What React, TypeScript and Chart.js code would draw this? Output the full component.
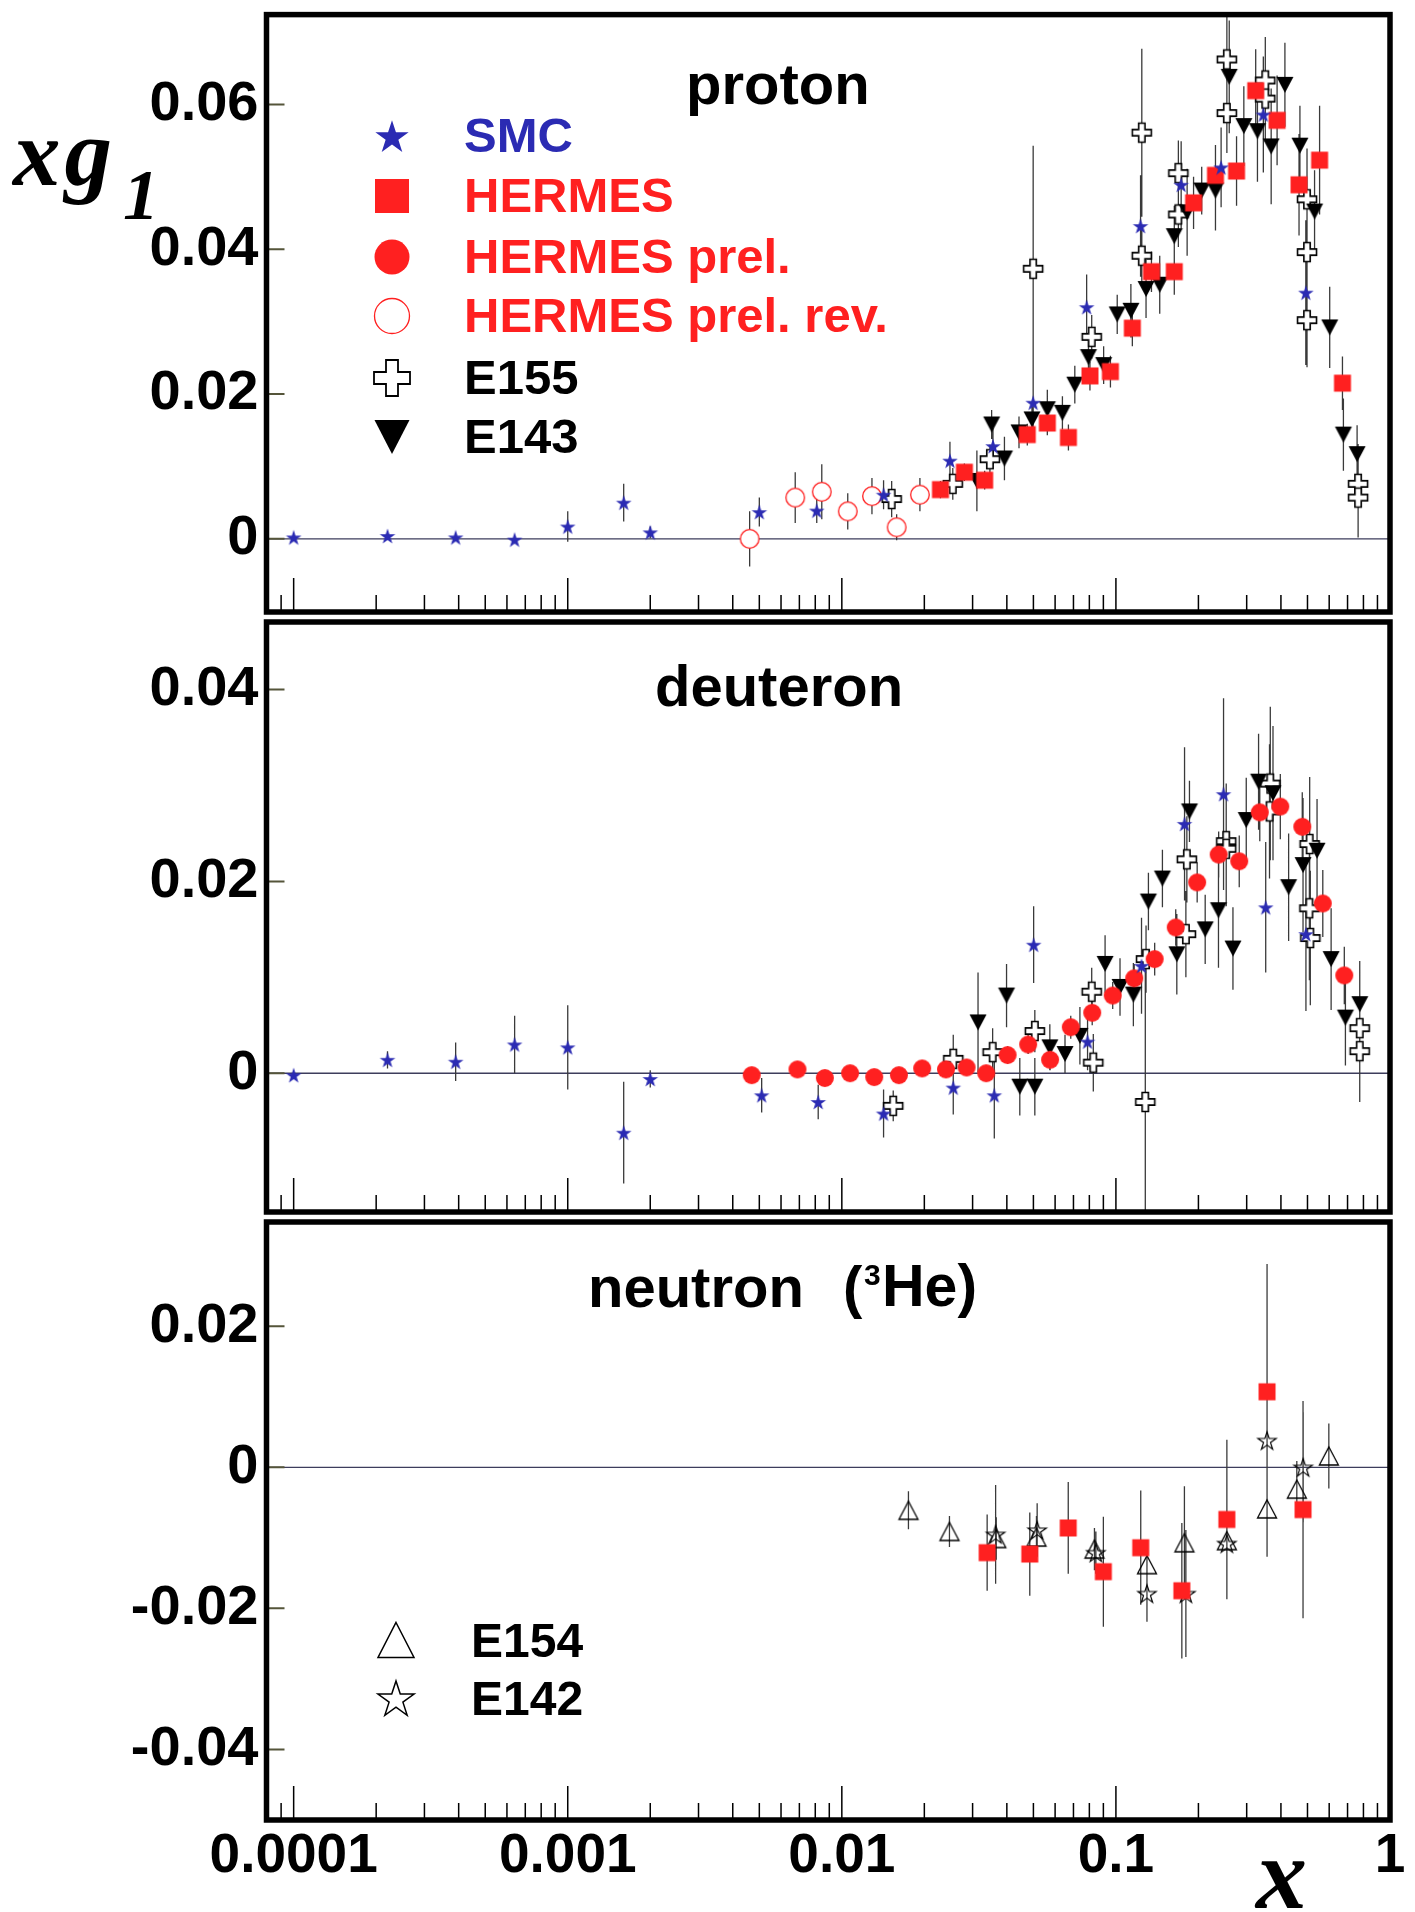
import React, { useEffect, useRef } from 'react';
import { Chart, registerables } from 'chart.js';

Chart.register(...registerables);

// ---------------- data: [x, xg1, error] ----------------
type Pt = [number, number, number];

const X_TICK_VALUES = [0.0001, 0.001, 0.01, 0.1, 1];
const X_TICK_LABELS = ['0.0001', '0.001', '0.01', '0.1', '1'];
const X_MIN = 7.96e-5;
const X_MAX = 1.0;

const PROTON_Y_TICKS = [0, 0.02, 0.04, 0.06];
const DEUTERON_Y_TICKS = [0, 0.02, 0.04];
const NEUTRON_Y_TICKS = [-0.04, -0.02, 0, 0.02];
const PROTON_Y_RANGE = [-0.0101, 0.0724];
const DEUTERON_Y_RANGE = [-0.01447, 0.04705];
const NEUTRON_Y_RANGE = [-0.05, 0.03477];

const PROTON_SMC: Pt[] = [
  [1.0e-4, 0.0002, 0.0003], [2.2e-4, 0.0004, 0.0004], [3.9e-4, 0.0002, 0.0004],
  [6.4e-4, -0.0001, 0.0005], [1.0e-3, 0.0017, 0.0021], [1.6e-3, 0.005, 0.0026],
  [2.0e-3, 0.0009, 0.0008], [0.005, 0.0037, 0.002], [0.0081, 0.0039, 0.0017],
  [0.0142, 0.0061, 0.002], [0.0248, 0.0108, 0.0026], [0.0356, 0.0128, 0.0025],
  [0.0499, 0.0188, 0.004], [0.0782, 0.032, 0.0045], [0.123, 0.0432, 0.007],
  [0.173, 0.0489, 0.006], [0.242, 0.0513, 0.0055], [0.345, 0.0586, 0.008],
  [0.493, 0.034, 0.01],
];
const PROTON_HERMES: Pt[] = [
  [0.0229, 0.0068, 0.0012], [0.028, 0.0092, 0.0012], [0.0332, 0.0081, 0.0013],
  [0.0475, 0.0144, 0.0015], [0.0562, 0.016, 0.0017], [0.0671, 0.014, 0.0018],
  [0.0804, 0.0225, 0.002], [0.0955, 0.0231, 0.0022], [0.1148, 0.0291, 0.0025],
  [0.1348, 0.0369, 0.0028], [0.1633, 0.0369, 0.0032], [0.192, 0.0464, 0.0036],
  [0.2308, 0.0502, 0.0042], [0.2755, 0.0508, 0.0048], [0.3236, 0.0619, 0.0057],
  [0.3873, 0.0578, 0.0062], [0.4657, 0.0489, 0.007], [0.5535, 0.0523, 0.0075],
  [0.6707, 0.0215, 0.0037],
];
const PROTON_HERMES_REV: Pt[] = [
  [0.00461, 0.0, 0.0038], [0.00676, 0.0057, 0.0035], [0.00845, 0.0065, 0.0038],
  [0.01051, 0.0038, 0.0025], [0.01288, 0.0059, 0.0025], [0.01585, 0.0016, 0.0018],
  [0.01927, 0.0061, 0.0023],
];
const PROTON_E155: Pt[] = [
  [0.0152, 0.0055, 0.0025], [0.0254, 0.0076, 0.0022], [0.0347, 0.011, 0.002],
  [0.0499, 0.0373, 0.017], [0.0816, 0.0279, 0.003], [0.1243, 0.0561, 0.0116],
  [0.1243, 0.0391, 0.004], [0.169, 0.0505, 0.0045], [0.169, 0.0448, 0.0045],
  [0.254, 0.0662, 0.007], [0.254, 0.0588, 0.0055], [0.3508, 0.0633, 0.006],
  [0.3508, 0.0608, 0.006], [0.498, 0.0469, 0.007], [0.498, 0.0396, 0.0065],
  [0.498, 0.0302, 0.0065], [0.765, 0.0076, 0.0055], [0.765, 0.0057, 0.0055],
];
const PROTON_E143: Pt[] = [
  [0.0311, 0.008, 0.0042], [0.0352, 0.0158, 0.002], [0.0392, 0.0111, 0.003],
  [0.0443, 0.0147, 0.0022], [0.0494, 0.0165, 0.0018], [0.0562, 0.0179, 0.0027],
  [0.0638, 0.0174, 0.0023], [0.0708, 0.0213, 0.0026], [0.0794, 0.0251, 0.003],
  [0.0902, 0.024, 0.0026], [0.1011, 0.031, 0.0027], [0.1134, 0.0315, 0.0037],
  [0.1288, 0.0345, 0.004], [0.1445, 0.0351, 0.004], [0.1633, 0.0418, 0.0042],
  [0.1819, 0.0451, 0.006], [0.2056, 0.0481, 0.0033], [0.2308, 0.0481, 0.0055],
  [0.2591, 0.0638, 0.0078], [0.2929, 0.057, 0.0055], [0.3284, 0.0563, 0.007],
  [0.3685, 0.0542, 0.008], [0.4136, 0.0627, 0.0058], [0.4692, 0.0543, 0.0055],
  [0.5306, 0.0452, 0.0057], [0.6026, 0.0292, 0.0056], [0.6761, 0.0144, 0.005],
  [0.7585, 0.0117, 0.004],
];

const DEUTERON_SMC: Pt[] = [
  [1.0e-4, -0.0002, 0.0003], [2.2e-4, 0.0014, 0.0009], [3.9e-4, 0.0012, 0.002],
  [6.4e-4, 0.003, 0.003], [1.0e-3, 0.0027, 0.0044], [1.6e-3, -0.0062, 0.0053],
  [2.0e-3, -0.0006, 0.0009], [0.0051, -0.0023, 0.0018], [0.0082, -0.003, 0.0018],
  [0.0142, -0.0042, 0.0025], [0.0255, -0.0015, 0.0028], [0.036, -0.0023, 0.0045],
  [0.0501, 0.0134, 0.004], [0.0788, 0.0033, 0.003], [0.124, 0.0112, 0.005],
  [0.178, 0.026, 0.008], [0.247, 0.0291, 0.01], [0.352, 0.0173, 0.0068],
  [0.4935, 0.0145, 0.008],
];
const DEUTERON_HERMES_PREL: Pt[] = [
  [0.00469, -0.0002, 0.0008], [0.00689, 0.0004, 0.0008], [0.00867, -0.0005, 0.0006],
  [0.01072, 0.0, 0.0006], [0.01313, -0.0004, 0.0006], [0.01615, -0.0002, 0.0006],
  [0.01964, 0.0005, 0.0006], [0.02398, 0.0004, 0.0007], [0.02852, 0.0006, 0.0007],
  [0.03363, 0.0, 0.0008], [0.04025, 0.0019, 0.0009], [0.04783, 0.003, 0.001],
  [0.05752, 0.0014, 0.0011], [0.06843, 0.0048, 0.0012], [0.08194, 0.0063, 0.0013],
  [0.09734, 0.0081, 0.0014], [0.1166, 0.0099, 0.0015], [0.1385, 0.0119, 0.0017],
  [0.1653, 0.0152, 0.0019], [0.1979, 0.0199, 0.0021], [0.2371, 0.0228, 0.0024],
  [0.2818, 0.0221, 0.0027], [0.3349, 0.0272, 0.003], [0.3979, 0.0278, 0.0034],
  [0.4785, 0.0257, 0.0036], [0.5686, 0.0177, 0.0035], [0.6812, 0.0102, 0.003],
];
const DEUTERON_E155: Pt[] = [
  [0.0154, -0.0034, 0.0016], [0.0255, 0.0015, 0.0025], [0.0355, 0.0022, 0.0025],
  [0.0506, 0.0044, 0.0022], [0.0816, 0.0085, 0.0025], [0.0827, 0.0011, 0.003],
  [0.1288, 0.0119, 0.0035], [0.128, -0.003, 0.0145], [0.1815, 0.0223, 0.0045],
  [0.18, 0.0145, 0.0045], [0.2526, 0.0242, 0.006], [0.2526, 0.0234, 0.006],
  [0.3658, 0.0302, 0.008], [0.3634, 0.0273, 0.007], [0.5093, 0.0239, 0.007],
  [0.508, 0.0172, 0.0075], [0.512, 0.0141, 0.007], [0.7755, 0.0047, 0.007],
  [0.7755, 0.0023, 0.0053],
];
const DEUTERON_E143: Pt[] = [
  [0.0314, 0.0053, 0.0052], [0.0399, 0.0081, 0.0033], [0.0446, -0.0014, 0.003],
  [0.0506, -0.0014, 0.003], [0.0574, 0.0027, 0.0024], [0.0652, 0.002, 0.002],
  [0.0739, 0.0039, 0.003], [0.0913, 0.0114, 0.003], [0.1035, 0.009, 0.003],
  [0.1158, 0.0082, 0.0033], [0.1314, 0.0179, 0.003], [0.1478, 0.0203, 0.003],
  [0.1668, 0.0124, 0.0042], [0.1855, 0.0273, 0.0032], [0.2117, 0.015, 0.0036],
  [0.2367, 0.017, 0.006], [0.2673, 0.013, 0.0043], [0.2989, 0.0264, 0.0044],
  [0.3315, 0.0304, 0.005], [0.3742, 0.0292, 0.007], [0.4267, 0.0194, 0.0056],
  [0.4816, 0.0217, 0.007], [0.5418, 0.0232, 0.0054], [0.6098, 0.0119, 0.0053],
  [0.6876, 0.0058, 0.005], [0.7756, 0.0072, 0.0036],
];

const NEUTRON_HERMES: Pt[] = [
  [0.0339, -0.0121, 0.0054], [0.0485, -0.0123, 0.0059], [0.067, -0.0086, 0.0065],
  [0.09, -0.0148, 0.0078], [0.1232, -0.0114, 0.0081], [0.174, -0.0175, 0.0096],
  [0.254, -0.0074, 0.0113], [0.356, 0.0107, 0.0181], [0.4816, -0.006, 0.0154],
];
const NEUTRON_E154: Pt[] = [
  [0.0175, -0.0061, 0.0027], [0.0247, -0.0091, 0.0022], [0.0366, -0.0101, 0.003],
  [0.0513, -0.0099, 0.003], [0.0835, -0.0116, 0.003], [0.1298, -0.0138, 0.0035],
  [0.1778, -0.0107, 0.008], [0.254, -0.0104, 0.004], [0.356, -0.0059, 0.0068],
  [0.4571, -0.0031, 0.004], [0.5982, 0.0016, 0.0046],
];
const NEUTRON_E142: Pt[] = [
  [0.0364, -0.0095, 0.007], [0.0516, -0.0089, 0.0038], [0.0845, -0.0121, 0.003],
  [0.1298, -0.0179, 0.004], [0.18, -0.0179, 0.009], [0.254, -0.0108, 0.003],
  [0.356, 0.0038, 0.005], [0.4821, 0.0, 0.0078],
];

// ---------------- style ----------------
const BLUE = '#2b2bb3';
const RED = '#ff2020';
const SANS = "'Liberation Sans', Arial, Helvetica, sans-serif";
const SERIF = "'Liberation Serif', 'Times New Roman', serif";
const PAGE_W = 1415;
const AREA_LEFT = 266.5;
const AREA_RIGHT = 1390;

type Shape = { kind: 'poly'; pts: number[][] } | { kind: 'circle'; r: number };
interface Spec { shape: Shape; fill: string | null; stroke: string | null; lw: number }

function starPts(R: number) {
  const pts: number[][] = [];
  for (let i = 0; i < 10; i++) {
    const a = -Math.PI / 2 + (i * Math.PI) / 5;
    const r = i % 2 === 0 ? R : R * 0.382;
    pts.push([r * Math.cos(a), r * Math.sin(a) + R * 0.1]);
  }
  return pts;
}
function crossPts(s: number) {
  const h = s / 2, a = s / 6;
  return [[-a, -h], [a, -h], [a, -a], [h, -a], [h, a], [a, a], [a, h], [-a, h], [-a, a], [-h, a], [-h, -a], [-a, -a]];
}
function squarePts(s: number) {
  const h = s / 2;
  return [[-h, -h], [h, -h], [h, h], [-h, h]];
}
const triDown = (w: number, h: number) => [[-w / 2, -h / 2], [w / 2, -h / 2], [0, h / 2]];
const triUp = (w: number, h: number) => [[0, -h / 2], [w / 2, h / 2], [-w / 2, h / 2]];

const MARK = {
  smc: (R: number): Spec => ({ shape: { kind: 'poly', pts: starPts(R) }, fill: BLUE, stroke: null, lw: 0 }),
  hermes: (s: number): Spec => ({ shape: { kind: 'poly', pts: squarePts(s) }, fill: RED, stroke: null, lw: 0 }),
  prel: (r: number): Spec => ({ shape: { kind: 'circle', r }, fill: RED, stroke: null, lw: 0 }),
  rev: (r: number, lw: number): Spec => ({ shape: { kind: 'circle', r }, fill: '#ffffff', stroke: RED, lw }),
  e155: (s: number, lw: number): Spec => ({ shape: { kind: 'poly', pts: crossPts(s) }, fill: '#ffffff', stroke: '#000', lw }),
  e143: (w: number, h: number): Spec => ({ shape: { kind: 'poly', pts: triDown(w, h) }, fill: '#000', stroke: null, lw: 0 }),
  e154: (w: number, h: number, lw: number): Spec => ({ shape: { kind: 'poly', pts: triUp(w, h) }, fill: null, stroke: '#000', lw }),
  e142: (R: number, lw: number): Spec => ({ shape: { kind: 'poly', pts: starPts(R) }, fill: null, stroke: '#000', lw }),
};

function markerCanvas(spec: Spec, box: number) {
  const c = document.createElement('canvas');
  c.width = box;
  c.height = box;
  const ctx = c.getContext('2d')!;
  ctx.translate(box / 2, box / 2);
  ctx.beginPath();
  if (spec.shape.kind === 'circle') ctx.arc(0, 0, spec.shape.r, 0, Math.PI * 2);
  else {
    spec.shape.pts.forEach(([x, y], i) => (i ? ctx.lineTo(x, y) : ctx.moveTo(x, y)));
    ctx.closePath();
  }
  if (spec.fill) { ctx.fillStyle = spec.fill; ctx.fill(); }
  if (spec.stroke) { ctx.strokeStyle = spec.stroke; ctx.lineWidth = spec.lw; ctx.stroke(); }
  return c;
}

function LegendMark({ cx, cy, spec }: { cx: number; cy: number; spec: Spec }) {
  const b = 48;
  const common = { fill: spec.fill || 'none', stroke: spec.stroke || 'none', strokeWidth: spec.lw };
  return (
    <svg style={{ position: 'absolute', left: cx - b / 2, top: cy - b / 2 }} width={b} height={b}
      viewBox={`${-b / 2} ${-b / 2} ${b} ${b}`}>
      {spec.shape.kind === 'circle'
        ? <circle cx={0} cy={0} r={spec.shape.r} {...common} />
        : <polygon points={spec.shape.pts.map((p) => p.join(',')).join(' ')} {...common} />}
    </svg>
  );
}

function T(props: { x: number; base: number; size: number; text: string; color?: string; serif?: boolean;
  italic?: boolean; bold?: boolean; spacing?: number }) {
  const { x, base, size, text, color = '#000', serif = false, italic = false, bold = true, spacing = 0 } = props;
  const k = serif ? 0.8375 : 0.8465;
  return (
    <div style={{
      position: 'absolute', left: x, top: base - k * size, fontSize: size, lineHeight: `${size}px`,
      fontFamily: serif ? SERIF : SANS, fontWeight: bold ? 700 : 400, fontStyle: italic ? 'italic' : 'normal',
      color, whiteSpace: 'nowrap', letterSpacing: spacing,
    }}>{text}</div>
  );
}

const toXY = (pts: Pt[]) => pts.map(([x, y, e]) => ({ x, y, e }));

const rootAxes = {
  id: 'rootAxes',
  beforeDatasetsDraw(chart: any) {
    const { ctx, chartArea: a, scales } = chart;
    ctx.save();
    ctx.beginPath();
    ctx.rect(a.left, a.top, a.right - a.left, a.bottom - a.top);
    ctx.clip();
    const y0 = scales.y.getPixelForValue(0);
    ctx.strokeStyle = '#3d3d5c';
    ctx.lineWidth = 1.3;
    ctx.beginPath();
    ctx.moveTo(a.left, y0);
    ctx.lineTo(a.right, y0);
    ctx.stroke();
    ctx.strokeStyle = '#3a3a3a';
    ctx.lineWidth = 1.3;
    ctx.beginPath();
    chart.data.datasets.forEach((ds: any, i: number) => {
      const meta = chart.getDatasetMeta(i);
      meta.data.forEach((el: any, j: number) => {
        const d = ds.data[j];
        ctx.moveTo(el.x, scales.y.getPixelForValue(d.y + d.e));
        ctx.lineTo(el.x, scales.y.getPixelForValue(d.y - d.e));
      });
    });
    ctx.stroke();
    ctx.restore();
  },
  afterDraw(chart: any, _a: any, opts: any) {
    const { ctx, chartArea: a, scales } = chart;
    ctx.save();
    ctx.strokeStyle = '#000';
    ctx.lineWidth = 1.5;
    ctx.beginPath();
    for (let e = -5; e <= 0; e++) {
      for (let k = 1; k <= 9; k++) {
        const v = k * Math.pow(10, e);
        if (v < X_MIN || v > X_MAX * 1.0001) continue;
        const px = scales.x.getPixelForValue(v);
        const len = k === 1 ? 34 : 17;
        ctx.moveTo(px, a.bottom);
        ctx.lineTo(px, a.bottom - len);
      }
    }
    ctx.stroke();
    ctx.strokeStyle = '#55553a';
    ctx.lineWidth = 2;
    ctx.beginPath();
    (opts.yTicks as number[]).forEach((v) => {
      const py = scales.y.getPixelForValue(v);
      ctx.moveTo(a.left, py);
      ctx.lineTo(a.left + 18, py);
    });
    ctx.stroke();
    ctx.strokeStyle = '#000';
    ctx.lineWidth = 5.5;
    ctx.strokeRect(a.left, a.top, a.right - a.left, a.bottom - a.top);
    ctx.restore();
  },
};

function fmtY(v: number) {
  if (Math.abs(v) < 1e-9) return '0';
  return v.toFixed(2);
}

function buildConfig(datasets: any[], yRange: number[], yTicks: number[], showX: boolean,
  padTop: number, padBottom: number, xHeight: number): any {
  return {
    type: 'scatter',
    data: { datasets },
    options: {
      responsive: false,
      animation: false,
      devicePixelRatio: 1,
      events: [],
      layout: { padding: { left: 0, right: PAGE_W - AREA_RIGHT, top: padTop, bottom: padBottom } },
      plugins: { legend: { display: false }, tooltip: { enabled: false }, rootAxes: { yTicks } },
      scales: {
        x: {
          type: 'logarithmic',
          min: X_MIN,
          max: X_MAX,
          display: showX,
          grid: { display: false, drawTicks: false },
          border: { display: false },
          afterBuildTicks: (s: any) => { s.ticks = X_TICK_VALUES.map((v) => ({ value: v })); },
          afterFit: (s: any) => { s.height = xHeight; s.paddingLeft = 0; s.paddingRight = 0; },
          ticks: {
            autoSkip: false, maxRotation: 0, minRotation: 0, padding: 4, color: '#000',
            font: { family: SANS, size: 55, weight: 'bold' },
            callback: (_v: any, i: number) => X_TICK_LABELS[i],
          },
        },
        y: {
          type: 'linear',
          min: yRange[0],
          max: yRange[1],
          grid: { display: false, drawTicks: false },
          border: { display: false },
          afterBuildTicks: (s: any) => { s.ticks = yTicks.map((v) => ({ value: v })); },
          afterFit: (s: any) => { s.width = AREA_LEFT; s.paddingTop = 0; s.paddingBottom = 0; },
          ticks: {
            padding: 8, color: '#000',
            font: { family: SANS, size: 56, weight: 'bold' },
            callback: (v: any) => fmtY(Number(v)),
          },
        },
      },
    },
    plugins: [rootAxes],
  };
}

const DATA_MARKS = {
  smc: MARK.smc(8.2),
  hermes: MARK.hermes(17),
  prel: MARK.prel(9),
  rev: MARK.rev(9.3, 1.3),
  e155: MARK.e155(19, 1.6),
  e143: MARK.e143(17, 16),
  e154: MARK.e154(19, 18, 1.3),
  e142: MARK.e142(9.6, 1.2),
};

function ds(label: string, pts: Pt[], spec: Spec) {
  return { label, data: toXY(pts), pointStyle: markerCanvas(spec, 30), pointRadius: 9 };
}

export default function App() {
  const pRef = useRef<HTMLCanvasElement>(null);
  const dRef = useRef<HTMLCanvasElement>(null);
  const nRef = useRef<HTMLCanvasElement>(null);

  useEffect(() => {
    const M = DATA_MARKS;
    const proton = new Chart(pRef.current!, buildConfig([
      ds('SMC', PROTON_SMC, M.smc),
      ds('HERMES', PROTON_HERMES, M.hermes),
      ds('HERMES prel. rev.', PROTON_HERMES_REV, M.rev),
      ds('E143', PROTON_E143, M.e143),
      ds('E155', PROTON_E155, M.e155),
    ], PROTON_Y_RANGE, PROTON_Y_TICKS, false, 14.6, 7, 0));
    const deuteron = new Chart(dRef.current!, buildConfig([
      ds('SMC', DEUTERON_SMC, M.smc),
      ds('HERMES prel.', DEUTERON_HERMES_PREL, M.prel),
      ds('E143', DEUTERON_E143, M.e143),
      ds('E155', DEUTERON_E155, M.e155),
    ], DEUTERON_Y_RANGE, DEUTERON_Y_TICKS, false, 3.8, 6.4, 0));
    const neutron = new Chart(nRef.current!, buildConfig([
      ds('HERMES', NEUTRON_HERMES, M.hermes),
      ds('E142', NEUTRON_E142, M.e142),
      ds('E154', NEUTRON_E154, M.e154),
    ], NEUTRON_Y_RANGE, NEUTRON_Y_TICKS, true, 7, 0, 92));
    return () => { proton.destroy(); deuteron.destroy(); neutron.destroy(); };
  }, []);

  const legendRows = [
    { cy: 136, spec: MARK.smc(17.5), text: 'SMC', color: BLUE },
    { cy: 195.7, spec: MARK.hermes(34), text: 'HERMES', color: RED },
    { cy: 257, spec: MARK.prel(17.5), text: 'HERMES prel.', color: RED },
    { cy: 316.3, spec: MARK.rev(17.5, 1.3), text: 'HERMES prel. rev.', color: RED },
    { cy: 377.6, spec: MARK.e155(36, 1.8), text: 'E155', color: '#000' },
    { cy: 437, spec: MARK.e143(35, 34), text: 'E143', color: '#000' },
  ];
  const nLegendRows = [
    { cy: 1640, spec: MARK.e154(36, 35, 1.5), text: 'E154' },
    { cy: 1698, spec: MARK.e142(19, 1.5), text: 'E142' },
  ];

  return (
    <div style={{ position: 'absolute', left: 0, top: 0, width: PAGE_W, height: 1912, background: '#fff', overflow: 'hidden' }}>
      <canvas ref={pRef} width={PAGE_W} height={622} style={{ position: 'absolute', left: 0, top: 0 }} />
      <canvas ref={dRef} width={PAGE_W} height={610} style={{ position: 'absolute', left: 0, top: 612 }} />
      <canvas ref={nRef} width={PAGE_W} height={700} style={{ position: 'absolute', left: 0, top: 1212 }} />

      <T x={686} base={104} size={58} text="proton" />
      <T x={655} base={706} size={58} text="deuteron" />
      <T x={588} base={1307} size={58} text="neutron" />
      <T x={843} base={1307} size={58} text="(" />
      <T x={864} base={1285} size={30} text="3" />
      <T x={882} base={1307} size={59} text="He)" />

      <T x={13} base={186} size={95} text="xg" serif italic spacing={4} />
      <T x={123} base={219} size={72} text="1" serif italic />
      <T x={1256} base={1908} size={102} text="x" serif italic />

      {legendRows.map((r) => (
        <React.Fragment key={r.text}>
          <LegendMark cx={392} cy={r.cy} spec={r.spec} />
          <T x={464} base={r.cy + 16.5} size={49} text={r.text} color={r.color} />
        </React.Fragment>
      ))}
      {nLegendRows.map((r) => (
        <React.Fragment key={r.text}>
          <LegendMark cx={396} cy={r.cy} spec={r.spec} />
          <T x={471} base={r.cy + 18} size={48} text={r.text} />
        </React.Fragment>
      ))}
    </div>
  );
}
